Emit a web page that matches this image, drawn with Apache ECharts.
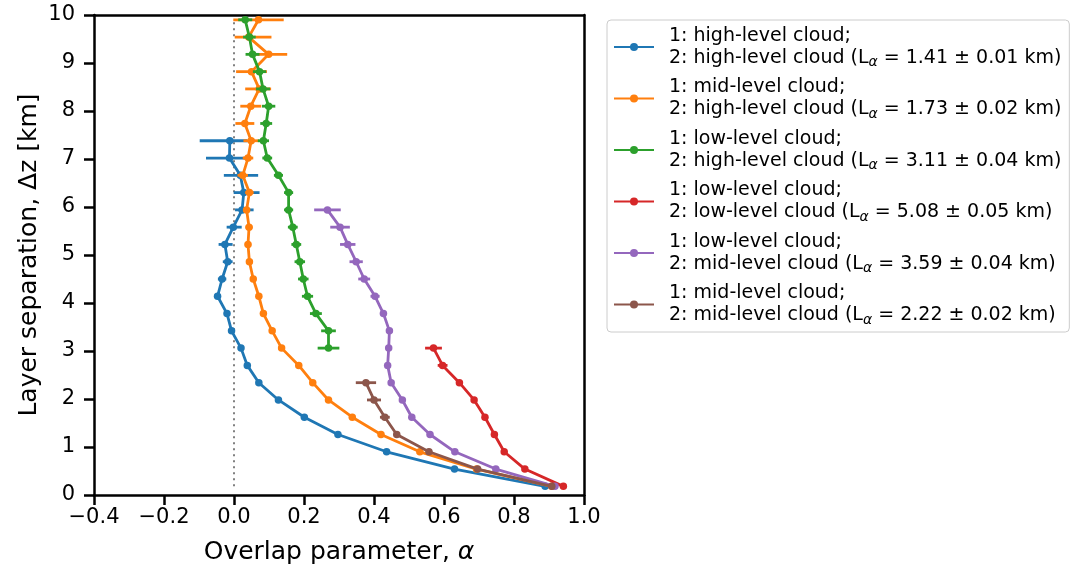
<!DOCTYPE html>
<html>
<head>
<meta charset="utf-8">
<script src="https://cdn.jsdelivr.net/npm/echarts@6/dist/echarts.min.js"></script>
<style>
  html, body { margin: 0; padding: 0; background: #fff; }
  #chart { width: 1079px; height: 570px; }
</style>
</head>
<body>
<div id="chart"></div>
<script>
// layer separation levels (km), shared by all curves
var dz = [0.18, 0.54, 0.90, 1.26, 1.62, 1.98, 2.34, 2.70, 3.06, 3.42,
          3.78, 4.14, 4.50, 4.86, 5.22, 5.58, 5.94, 6.30, 6.66, 7.02,
          7.38, 7.74, 8.10, 8.46, 8.82, 9.18, 9.54, 9.90];

var xTicks = [-0.4, -0.2, 0.0, 0.2, 0.4, 0.6, 0.8, 1.0];

var names = [
  '1: high-level cloud;\n2: high-level cloud (L{sub|α} = 1.41 ± 0.01 km)',
  '1: mid-level cloud;\n2: high-level cloud (L{sub|α} = 1.73 ± 0.02 km)',
  '1: low-level cloud;\n2: high-level cloud (L{sub|α} = 3.11 ± 0.04 km)',
  '1: low-level cloud;\n2: low-level cloud (L{sub|α} = 5.08 ± 0.05 km)',
  '1: low-level cloud;\n2: mid-level cloud (L{sub|α} = 3.59 ± 0.04 km)',
  '1: mid-level cloud;\n2: mid-level cloud (L{sub|α} = 2.22 ± 0.02 km)'
];
var colors = ['#1f77b4', '#ff7f0e', '#2ca02c', '#d62728', '#9467bd', '#8c564b'];

// first dz index of every curve
var firstLevel = [0, 0, 8, 0, 0, 0];

// high / high
var alphaHH = [0.889, 0.630, 0.436, 0.297, 0.201, 0.127, 0.071, 0.038, 0.020, -0.007,
               -0.020, -0.047, -0.034, -0.018, -0.026, -0.002, 0.023, 0.028, 0.018, -0.013,
               -0.012];
var errLoHH = [0.003, 0.003, 0.003, 0.003, 0.003, 0.003, 0.003, 0.003, 0.004, 0.005,
               0.006, 0.010, 0.012, 0.014, 0.018, 0.019, 0.020, 0.029, 0.047, 0.067,
               0.086];
var errHiHH = [0.003, 0.003, 0.003, 0.003, 0.003, 0.003, 0.003, 0.003, 0.004, 0.005,
               0.006, 0.010, 0.012, 0.014, 0.022, 0.024, 0.033, 0.045, 0.051, 0.050,
               0.050];
// mid / high
var alphaMH = [0.908, 0.693, 0.531, 0.420, 0.338, 0.270, 0.225, 0.185, 0.136, 0.109,
               0.084, 0.071, 0.055, 0.044, 0.040, 0.043, 0.036, 0.044, 0.025, 0.040,
               0.049, 0.031, 0.048, 0.072, 0.050, 0.099, 0.042, 0.070];
var errLoMH = [0.003, 0.003, 0.003, 0.003, 0.003, 0.003, 0.003, 0.004, 0.004, 0.004,
               0.005, 0.005, 0.006, 0.008, 0.009, 0.010, 0.010, 0.012, 0.015, 0.015,
               0.022, 0.027, 0.030, 0.040, 0.044, 0.047, 0.040, 0.072];
var errHiMH = [0.003, 0.003, 0.003, 0.003, 0.003, 0.003, 0.003, 0.004, 0.004, 0.004,
               0.005, 0.005, 0.006, 0.008, 0.009, 0.010, 0.010, 0.012, 0.015, 0.015,
               0.022, 0.027, 0.030, 0.034, 0.044, 0.053, 0.065, 0.072];
// low / high
var alphaLH = [0.270, 0.270, 0.234, 0.210, 0.198, 0.188, 0.178, 0.168, 0.156, 0.156,
               0.127, 0.095, 0.084, 0.092, 0.099, 0.083, 0.073, 0.053, 0.044, 0.032];
var errLH   = [0.031, 0.021, 0.017, 0.016, 0.015, 0.015, 0.014, 0.014, 0.013, 0.013,
               0.013, 0.014, 0.016, 0.017, 0.019, 0.020, 0.019, 0.020, 0.018, 0.020];
// low / low
var alphaLL = [0.941, 0.831, 0.772, 0.744, 0.717, 0.686, 0.644, 0.596, 0.570];
var errLL   = [0.004, 0.004, 0.004, 0.004, 0.004, 0.004, 0.006, 0.014, 0.024];
// low / mid
var alphaLM = [0.917, 0.748, 0.631, 0.560, 0.508, 0.481, 0.449, 0.439, 0.442, 0.444,
               0.427, 0.403, 0.372, 0.349, 0.325, 0.303, 0.267];
var errLM   = [0.004, 0.004, 0.004, 0.004, 0.004, 0.004, 0.004, 0.006, 0.007, 0.008,
               0.010, 0.013, 0.017, 0.019, 0.022, 0.028, 0.038];
// mid / mid
var alphaMM = [0.908, 0.696, 0.557, 0.465, 0.431, 0.400, 0.377];
var errMM   = [0.004, 0.004, 0.004, 0.008, 0.014, 0.020, 0.029];

var alphas = [alphaHH, alphaMH, alphaLH, alphaLL, alphaLM, alphaMM];
var errLo = [errLoHH, errLoMH, errLH, errLL, errLM, errMM];
var errHi = [errHiHH, errHiMH, errLH, errLL, errLM, errMM];

var font = 'DejaVu Sans';
var lw = 2.8;

function errorBars(params, api) {
  var a = api.coord([api.value(0), api.value(2)]);
  var b = api.coord([api.value(1), api.value(2)]);
  return {
    type: 'line',
    shape: { x1: a[0], y1: a[1], x2: b[0], y2: b[1] },
    style: { stroke: api.visual('color'), lineWidth: lw }
  };
}

var series = [];
// dotted zero line
series.push({
  name: 'zero',
  type: 'line',
  data: [[0, dz[0]], [0, dz[dz.length - 1]]],
  symbol: 'none',
  silent: true,
  lineStyle: { color: '#808080', width: 2, type: [2, 4] },
  z: 1
});

alphas.forEach(function (arr, s) {
  var f = firstLevel[s];
  var pts = arr.map(function (a, k) { return [a, dz[f + k]]; });
  var bars = arr.map(function (a, k) {
    return [a - errLo[s][k], a + errHi[s][k], dz[f + k]];
  });
  series.push({
    name: names[s] + ' err',
    type: 'custom',
    renderItem: errorBars,
    data: bars,
    encode: { x: [0, 1], y: 2 },
    itemStyle: { color: colors[s] },
    silent: true,
    z: 2 + s
  });
  series.push({
    name: names[s],
    type: 'line',
    data: pts,
    symbol: 'circle',
    symbolSize: 7.5,
    showSymbol: true,
    itemStyle: { color: colors[s] },
    lineStyle: { color: colors[s], width: lw },
    z: 2 + s
  });
});

var axisLine = { show: true, onZero: false, lineStyle: { color: '#000', width: 2.5 } };

var option = {
  animation: false,
  textStyle: { fontFamily: font },
  grid: { left: 94, right: 495, top: 15, bottom: 74, containLabel: false },
  legend: {
    data: names,
    orient: 'vertical',
    left: 607,
    top: 20,
    padding: [5, 8, 5, 6],
    itemWidth: 40,
    itemHeight: 10,
    itemGap: 7,
    backgroundColor: '#fff',
    borderColor: '#cccccc',
    borderWidth: 1,
    borderRadius: 4,
    textStyle: {
      fontFamily: font,
      fontSize: 19,
      color: '#000',
      lineHeight: 22,
      padding: [0, 0, 0, 10],
      rich: {
        sub: { fontFamily: font, fontSize: 14, fontStyle: 'italic', color: '#000', padding: [9, 0, 0, 0] }
      }
    }
  },
  xAxis: [{
    type: 'value',
    min: -0.4,
    max: 1.0,
    interval: 0.2,
    position: 'bottom',
    axisLine: axisLine,
    axisTick: { show: true, length: 10, lineStyle: { color: '#000', width: 2.5 } },
    axisLabel: {
      fontSize: 21, color: '#000', margin: 12, fontFamily: font,
      formatter: function (v) {
        var t = xTicks.reduce(function (p, c) { return Math.abs(c - v) < Math.abs(p - v) ? c : p; });
        return t.toFixed(1).replace('-', '\u2212');
      }
    },
    splitLine: { show: false },
    name: 'Overlap parameter, {it|α}',
    nameLocation: 'middle',
    nameGap: 45,
    nameTextStyle: {
      fontSize: 25, color: '#000', fontFamily: font,
      rich: { it: { fontSize: 25, fontStyle: 'italic', color: '#000', fontFamily: font } }
    }
  }, {
    type: 'value',
    min: -0.4,
    max: 1.0,
    position: 'top',
    axisLine: axisLine,
    axisTick: { show: false },
    axisLabel: { show: false },
    splitLine: { show: false }
  }],
  yAxis: [{
    type: 'value',
    min: 0,
    max: 10,
    interval: 1,
    position: 'left',
    axisLine: axisLine,
    axisTick: { show: true, length: 10, lineStyle: { color: '#000', width: 2.5 } },
    axisLabel: { fontSize: 21, color: '#000', margin: 19, fontFamily: font },
    splitLine: { show: false },
    name: 'Layer separation, Δz [km]',
    nameLocation: 'middle',
    nameGap: 52,
    nameTextStyle: { fontSize: 25, color: '#000', fontFamily: font }
  }, {
    type: 'value',
    min: 0,
    max: 10,
    position: 'right',
    axisLine: axisLine,
    axisTick: { show: false },
    axisLabel: { show: false },
    splitLine: { show: false }
  }],
  series: series
};

var myChart = echarts.init(document.getElementById('chart'));
myChart.setOption(option);
</script>
</body>
</html>
